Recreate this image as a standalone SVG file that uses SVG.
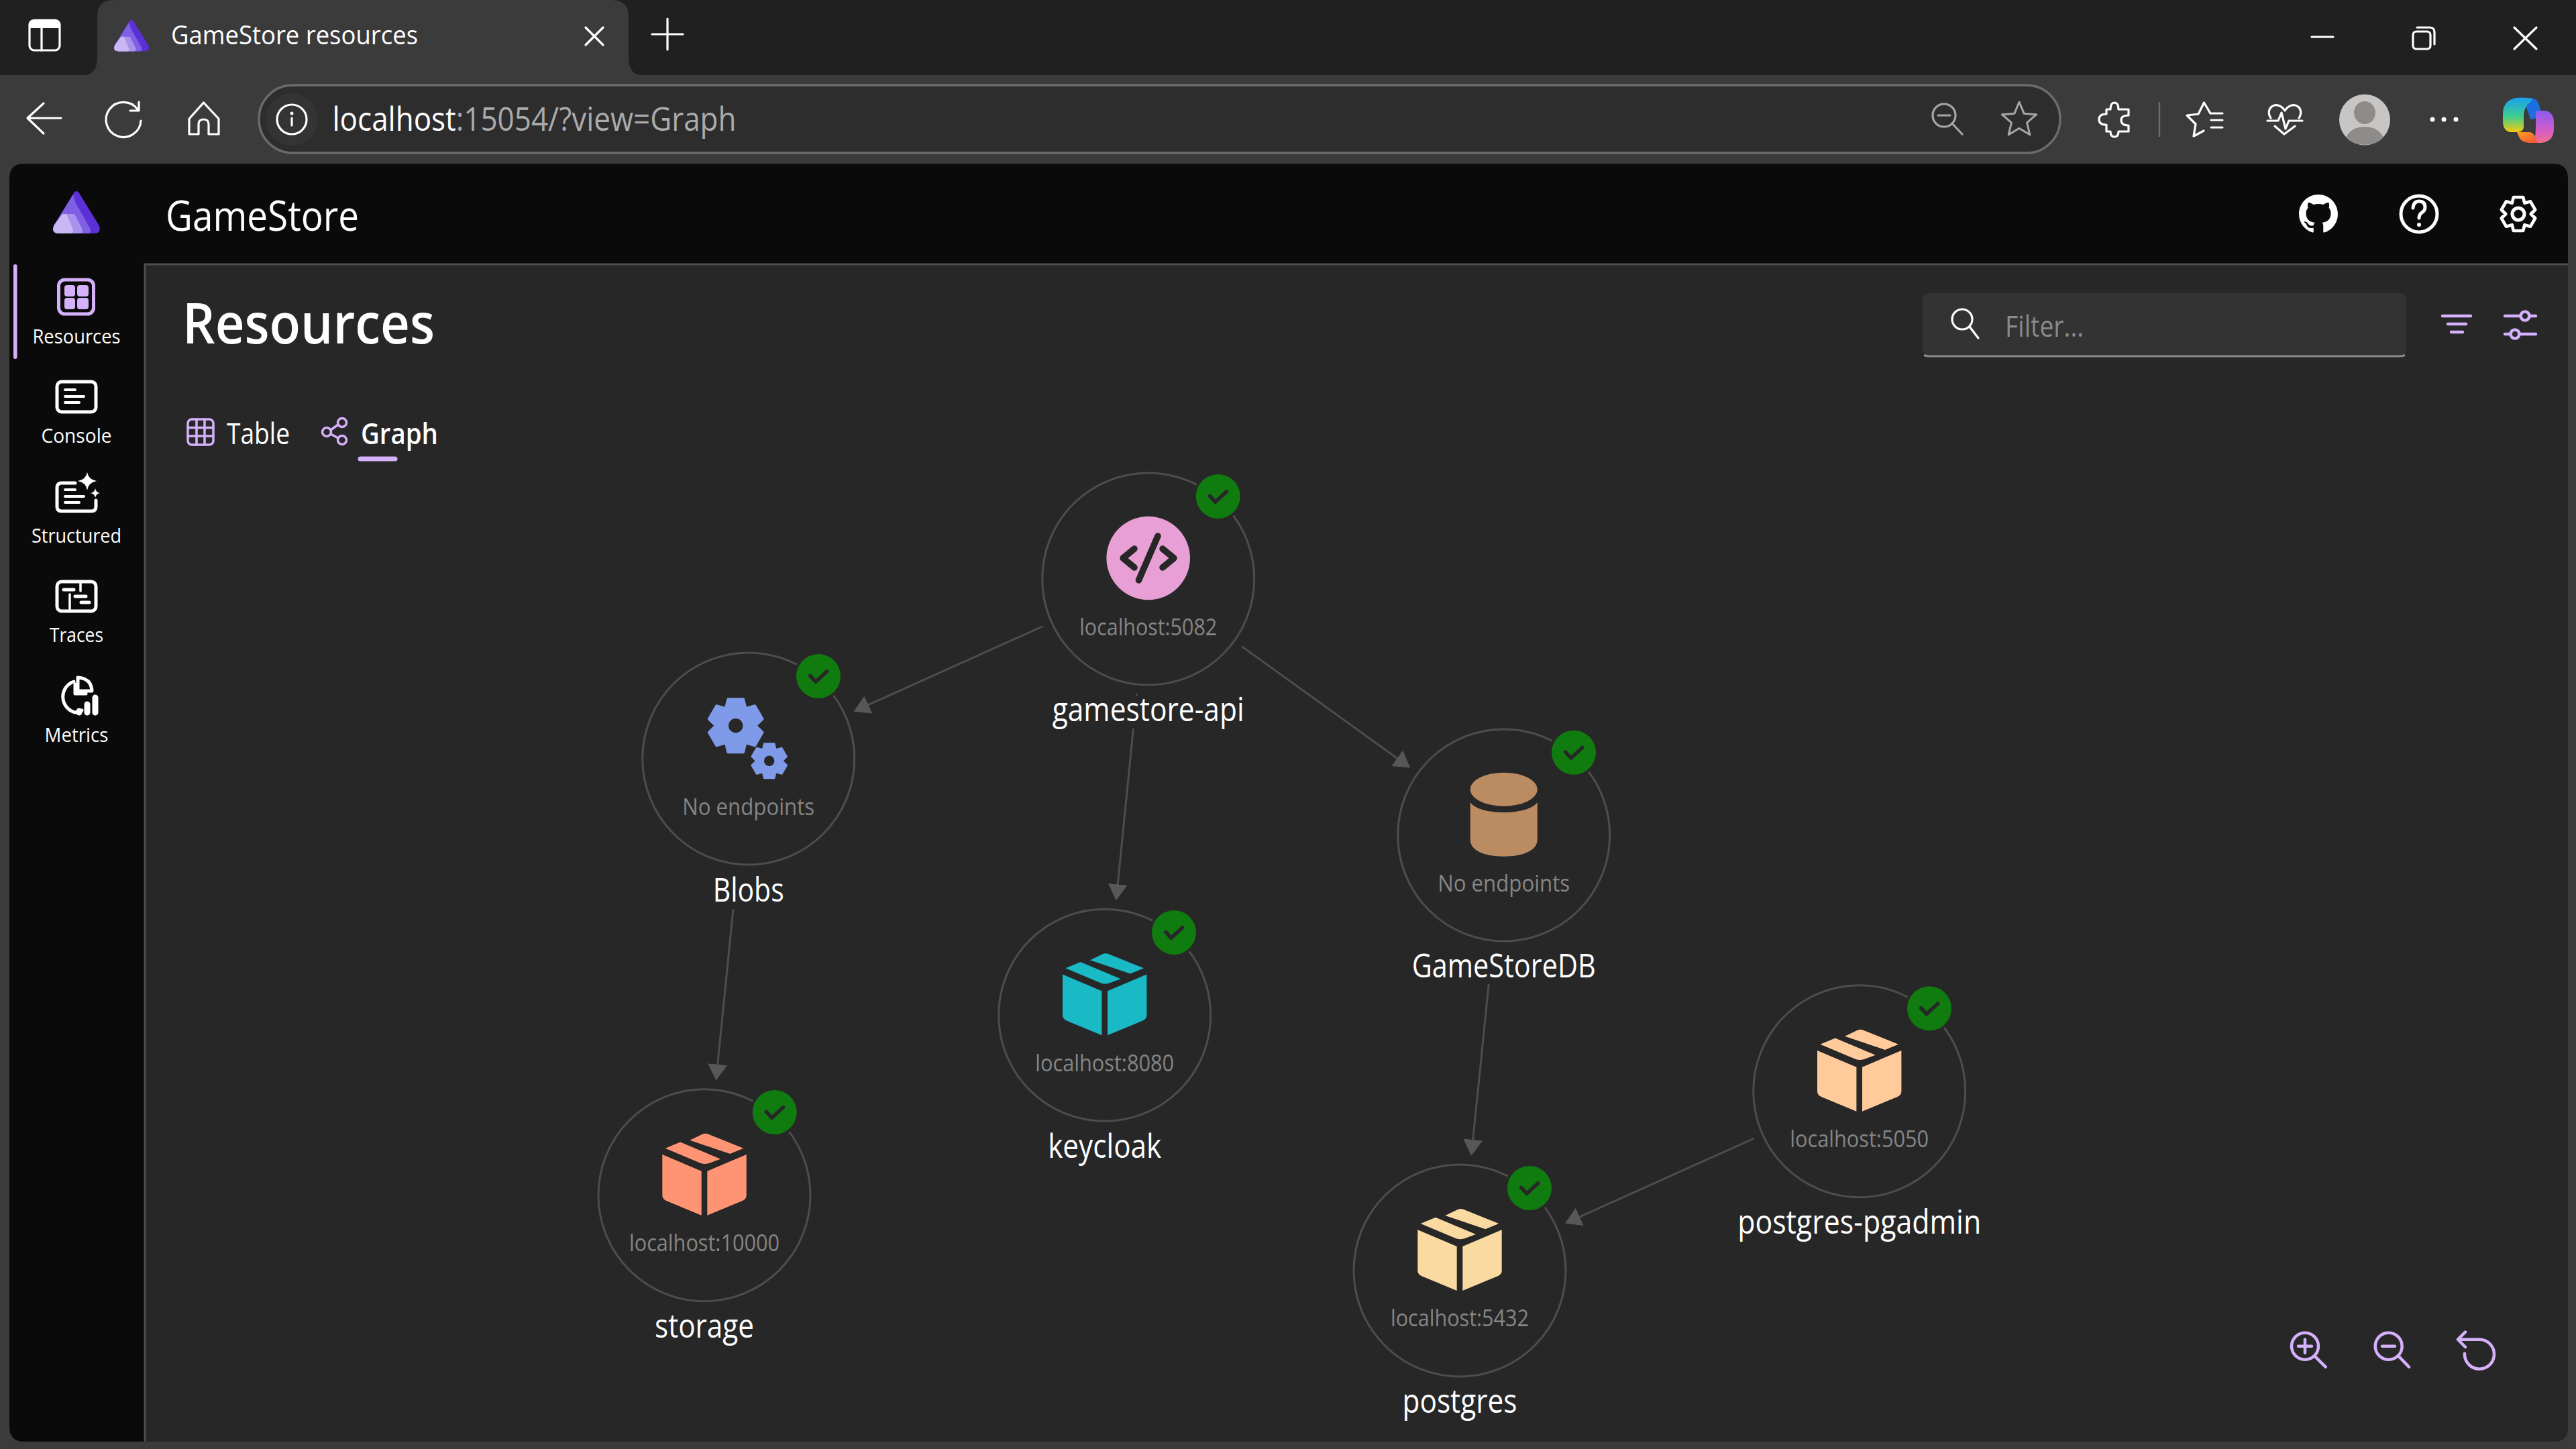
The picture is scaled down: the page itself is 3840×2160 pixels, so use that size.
<svg xmlns="http://www.w3.org/2000/svg" width="3840" height="2160" viewBox="0 0 3840 2160">
<style>
text{font-family:"Open Sans","Noto Sans","Liberation Sans",sans-serif;fill:#fff}
.ep{font-size:34px;fill:#858585;text-anchor:middle}
.nm{font-size:49px;text-anchor:middle}
.nav{font-size:30px;text-anchor:middle}
.ring{fill:none;stroke:#4d4d4d;stroke-width:3}
.badge{fill:#107c10;stroke:#272727;stroke-width:7;paint-order:stroke}
.chk{fill:none;stroke:#272727;stroke-width:5.5;stroke-linecap:round;stroke-linejoin:round}
.lb{fill:#272727}
.edge{fill:none;stroke:#4d4d4d;stroke-width:3;marker-end:url(#arrow)}
.w{fill:none;stroke:#fff;stroke-width:3.2;stroke-linecap:round;stroke-linejoin:round}
.wn{fill:none;stroke:#fff;stroke-width:5;stroke-linecap:round;stroke-linejoin:round}
.p{fill:none;stroke:#d6b1fb;stroke-width:4.5;stroke-linecap:round;stroke-linejoin:round}
.pf{fill:#d6b1fb}
.g{fill:none;stroke:#a6a6a6;stroke-width:3.2;stroke-linecap:round;stroke-linejoin:round}
</style>
<defs>
<marker id="arrow" markerUnits="userSpaceOnUse" markerWidth="26" markerHeight="31" refX="16" refY="15.5" orient="auto"><path d="M0 1 L24 15.5 L0 30 Z" fill="#575757"/></marker>
<symbol id="box" overflow="visible" viewBox="-70 -100 140 140" width="140" height="140">
<path fill="currentColor" d="M-21.7 -82 L-3 -91 Q1.500 -93 6 -91 L58.300 -70 L38.300 -61.700 Z"/>
<path fill="currentColor" d="M-58.300 -70 L-36 -79.300 L24 -54 L7 -47.700 Q0 -45.500 -6 -48 Z"/>
<path fill="currentColor" d="M-62.700 -60.700 L-4.300 -36 V30 L-56.700 8.300 Q-62.700 5.500 -62.700 0 Z"/>
<path fill="currentColor" d="M62.700 -60.700 L4.300 -36 V30 L56.700 8.300 Q62.700 5.500 62.700 0 Z"/>
</symbol>
<path id="gearp" d="M-.276 -.961 L.276 -.961 L.36 -.624 L.695 -.719 L.97 -.242 L.72 0 L.97 .242 L.695 .719 L.36 .624 L.276 .961 L-.276 .961 L-.36 .624 L-.695 .719 L-.97 .242 L-.72 0 L-.97 -.242 L-.695 -.719 L-.36 -.624 Z"/>
<path id="starp" d="M0 -1 L.265 -.364 L.951 -.309 L.428 .139 L.588 .809 L0 .45 L-.588 .809 L-.428 .139 L-.951 -.309 L-.265 -.364 Z"/>
<symbol id="logo" viewBox="0 0 70 63" overflow="visible">
<path fill="#5b30d6" d="M35 0 Q38 0 41 6 L68 50 Q74 63 60 63 H10 Q-4 63 2 50 L29 6 Q32 0 35 0Z"/>
<path fill="#7f60e4" d="M30 5 L2 50 Q-4 63 10 63 H52 Q58 63 55 55 L34 18 Q32 12 30 5Z"/>
<path fill="#a892ec" d="M18 34 L2 50 Q-4 63 10 63 H40 Q46 63 43 55 L32 34 Z"/>
<path fill="#c9b8f3" d="M14 34 L2 50 Q-4 63 10 63 H26 Q32 63 29 55 L20 34 Z"/>
</symbol>
<linearGradient id="cpL" x1="0" y1="0" x2="0" y2="1"><stop offset="0" stop-color="#19a0ee"/><stop offset=".55" stop-color="#3fcf8e"/><stop offset="1" stop-color="#f6ca10"/></linearGradient>
<linearGradient id="cpR" x1="0" y1="0" x2="0" y2="1"><stop offset="0" stop-color="#8a5cf0"/><stop offset=".6" stop-color="#d25cc8"/><stop offset="1" stop-color="#f0708a"/></linearGradient>
<linearGradient id="cpO" x1="0" y1="0" x2="1" y2="1"><stop offset="0" stop-color="#f6a21e"/><stop offset="1" stop-color="#f4503c"/></linearGradient>
</defs>

<g id="browser-chrome">
<rect width="3840" height="2160" fill="#3b3b3b"/>
<rect width="3840" height="112" fill="#202020"/>
<path d="M125 112 Q145 112 145 85 V24 Q145 0 170 0 H912 Q937 0 937 24 V85 Q937 112 957 112 Z" fill="#3b3b3b"/>
<use href="#logo" x="170" y="29" width="52" height="48"/>
<text x="255" y="66" font-size="39" textLength="368" lengthAdjust="spacingAndGlyphs">GameStore resources</text>
<path class="w" d="M873 41 L899 67 M899 41 L873 67"/>
<path class="w" d="M995 28 V74 M972 51 H1018"/>
<rect x="44" y="30" width="45" height="45" rx="7" class="w"/>
<path d="M44 37 Q44 30 51 30 H82 Q89 30 89 37 V42 H44Z" fill="#fff"/>
<path class="w" d="M62 42 V75"/>
<path class="w" d="M91 176 H41 M65 154 L41 176 L65 199"/>
<path class="w" d="M210 180 A26 26 0 1 1 205 163 M207 152 V165 H194"/>
<path class="w" d="M282 177 L303.500 153 L326 177 V200 H311 V185 Q311 178 303.500 178 Q296 178 296 185 V200 H282 Z"/>
<rect x="386" y="127" width="2685" height="101" rx="50" fill="#2d2d2d" stroke="#6b6b6b" stroke-width="3.500"/>
<circle cx="435" cy="178" r="39" fill="#343434"/>
<circle cx="435" cy="178" r="22" class="w"/>
<circle cx="435" cy="169" r="2.500" fill="#fff"/>
<path class="w" d="M435 176 V187"/>
<text x="495.500" y="195" font-size="49" textLength="602" lengthAdjust="spacingAndGlyphs">localhost<tspan style="fill:#ababab">:15054/?view=Graph</tspan></text>
<circle cx="2898" cy="172" r="17" class="g"/><path class="g" d="M2910 184 L2925 200 M2889 172 H2907"/>
<use href="#starp" transform="translate(3010 179) scale(27)" fill="none" stroke="#a6a6a6" stroke-width=".11" stroke-linejoin="round"/>
<path class="w" d="M3140 163 H3146 Q3146 153 3152 153 Q3158 153 3158 163 H3173 V172 Q3162 172 3162 179 Q3162 187 3173 187 V196 H3158 Q3158 204 3152 204 Q3146 204 3146 196 H3140 V186 Q3129 186 3129 178 Q3129 170 3140 170 Z"/>
<path d="M3219 152 V204" stroke="#6b6b6b" stroke-width="2.500"/>
<path class="w" d="M3295 169 L3285.500 153 L3277 170 L3260 172 L3273 185 L3270 203 L3285 195 M3295 169 H3313 M3296 179 H3313 M3296 190 H3313"/>
<path class="w" d="M3385 176 C3375 160 3395 148 3406 165 C3417 148 3437 160 3427 176 M3391 188 L3405 200 L3421 188 M3380 180 H3396 L3401 168 L3407 192 L3412 180 H3432"/>
<circle cx="3525" cy="178.500" r="38" fill="#c8c6c4"/>
<ellipse cx="3525" cy="168" rx="16" ry="17" fill="#8e8c8a"/>
<path d="M3497 205 Q3505 189 3525 189 Q3545 189 3553 205 Q3542 216 3525 216 Q3508 216 3497 205Z" fill="#8e8c8a"/>
<circle cx="3626" cy="178" r="3.500" fill="#fff"/><circle cx="3643" cy="178" r="3.500" fill="#fff"/><circle cx="3661" cy="178" r="3.500" fill="#fff"/>
<path d="M3755 146 H3772 Q3783 146 3786 160 L3790 174 L3772 178 Q3766 155 3755 146Z" fill="#1d6fe0"/>
<path d="M3750 146 Q3757 145 3770 146 Q3778 147 3772 152 Q3763 158 3762 172 L3762 190 Q3761 197 3752 197 H3742 Q3731 195 3731 180 V170 Q3731 150 3750 146Z" fill="url(#cpL)"/>
<path d="M3780 165 H3795 Q3807 168 3807 182 V192 Q3807 211 3788 213 H3775 Q3780 208 3780 190 Z" fill="url(#cpR)"/>
<path d="M3752 197 H3770 Q3777 197 3779 205 L3783 213 H3770 Q3758 212 3755 204Z" fill="url(#cpO)"/>
<path class="w" d="M3446 55 H3478" stroke-width="4"/>
<path class="w" d="M3603 41 H3622 Q3629 41 3629 48 V66"/>
<rect x="3597" y="47" width="26" height="26" rx="5" class="w"/>
<path class="w" d="M3748 41 L3781 73 M3781 41 L3748 73"/>
</g>

<g id="app-shell">
<path d="M36 244 H3806 Q3828 244 3828 266 V2127 Q3828 2149 3806 2149 H36 Q14 2149 14 2127 V266 Q14 244 36 244Z" fill="#0a0a0a"/>
<path d="M216 394 H3828 V2127 Q3828 2149 3806 2149 H216 Z" fill="#272727"/>
<path d="M216 2149 V394 H3828" fill="none" stroke="#4d4d4d" stroke-width="3"/>
<use href="#logo" x="79" y="285" width="70" height="63"/>
<text x="247" y="344" font-size="62" textLength="288" lengthAdjust="spacingAndGlyphs">GameStore</text>
<path fill="#fff" transform="translate(3427 290) scale(3.625)" d="M8 0C3.58 0 0 3.58 0 8c0 3.54 2.29 6.53 5.47 7.59.4.07.55-.17.55-.38 0-.19-.01-.82-.01-1.49-2.01.37-2.53-.49-2.69-.94-.09-.23-.48-.94-.82-1.13-.28-.15-.68-.52-.01-.53.63-.01 1.08.58 1.23.82.72 1.21 1.87.87 2.33.66.07-.52.28-.87.51-1.07-1.78-.2-3.64-.89-3.64-3.95 0-.87.31-1.59.82-2.15-.08-.2-.36-1.02.08-2.12 0 0 .67-.21 2.2.82.64-.18 1.32-.27 2-.27.68 0 1.36.09 2 .27 1.53-1.04 2.2-.82 2.2-.82.44 1.1.16 1.92.08 2.12.51.56.82 1.27.82 2.15 0 3.07-1.87 3.75-3.65 3.95.29.25.54.73.54 1.48 0 1.07-.01 1.93-.01 2.2 0 .21.15.46.55.38A8.013 8.013 0 0016 8c0-4.42-3.58-8-8-8z"/>
<circle cx="3606" cy="319" r="27" class="wn"/>
<path class="wn" d="M3597 310 Q3598 300 3606 300 Q3615 300 3615 309 Q3615 314 3610 317 Q3606 320 3606 325"/>
<circle cx="3606" cy="335" r="3" fill="#fff"/>
<use href="#gearp" transform="translate(3754 319) scale(26)" fill="none" stroke="#fff" stroke-width=".18" stroke-linejoin="round"/>
<circle cx="3754" cy="319" r="9" class="wn"/>
<rect x="2866" y="437" width="721" height="94" rx="9" fill="#333"/>
<path d="M2868 529.500 Q2872 531 2876 531 H3577 Q3581 531 3585 529.500" fill="none" stroke="#8a8a8a" stroke-width="3"/>
<circle cx="2925" cy="476" r="15" class="w"/><path class="w" d="M2936 487 L2949 504"/>
<text x="2989" y="502" font-size="43" textLength="117" lengthAdjust="spacingAndGlyphs" style="fill:#8a8a8a">Filter...</text>
<path class="p" d="M3641 471 H3683 M3649 483 H3676 M3654 495 H3671"/>
<path class="p" d="M3734 471 H3758 M3770 471 H3780 M3734 498 H3743 M3755 498 H3780"/>
<circle cx="3764" cy="471" r="6.500" class="p"/><circle cx="3749" cy="498" r="6.500" class="p"/>
<rect x="20" y="394" width="5.500" height="141" rx="2.700" class="pf"/>
<rect x="87.500" y="417" width="52" height="51" rx="9" class="p" style="stroke-width:5"/>
<rect x="96" y="425" width="16" height="17" rx="4" class="pf"/><rect x="115" y="425" width="17" height="17" rx="4" class="pf"/>
<rect x="96" y="444" width="16" height="17" rx="4" class="pf"/><rect x="115" y="444" width="17" height="17" rx="4" class="pf"/>
<text class="nav" x="114" y="512" textLength="131" lengthAdjust="spacingAndGlyphs">Resources</text>
<rect x="85" y="569" width="58" height="45" rx="7" class="wn"/>
<path class="wn" d="M97 581 H112 M97 591 H125 M97 600 H118" style="stroke-width:4"/>
<text class="nav" x="114" y="660" textLength="105" lengthAdjust="spacingAndGlyphs">Console</text>
<path class="wn" d="M112 720 H92 Q85 720 85 727 V755 Q85 762 92 762 H136 Q143 762 143 755 V746"/>
<path class="wn" d="M97 730 H112 M97 740 H125 M97 749 H118" style="stroke-width:4"/>
<path fill="#fff" d="M130 704 Q132 715 144 717 Q132 719 130 731 Q128 719 116 717 Q128 715 130 704Z M142 728 Q143 734 149 735 Q143 736 142 742 Q141 736 135 735 Q141 734 142 728Z"/>
<text class="nav" x="114" y="809" textLength="134" lengthAdjust="spacingAndGlyphs">Structured</text>
<rect x="85" y="867" width="58" height="44" rx="7" class="wn"/>
<path class="wn" d="M95 879 H110 M112 889 H128 M121 898 H133" style="stroke-width:5"/>
<path class="wn" d="M104 886 V911 M120 867 V881" style="stroke-width:3.500"/>
<text class="nav" x="114" y="957" textLength="80" lengthAdjust="spacingAndGlyphs">Traces</text>
<path class="wn" d="M110 1016 A24 24 0 0 0 112 1062 Q118 1062 122 1059"/>
<path class="wn" d="M116 1010 Q136 1011 137 1030 H116 Z M112 1020 V1034 H128"/>
<path d="M118 1060 V1062 M130 1050 V1062 M142 1040 V1062" fill="none" stroke="#fff" stroke-width="9" stroke-linecap="round"/>
<text class="nav" x="114" y="1106" textLength="95" lengthAdjust="spacingAndGlyphs">Metrics</text>
<text x="272" y="512" font-size="84" font-weight="600" textLength="376" lengthAdjust="spacingAndGlyphs">Resources</text>
<rect x="280" y="625" width="38" height="38" rx="6" class="p" style="stroke-width:3.500"/>
<path class="p" d="M293 625 V663 M305 625 V663 M280 637.500 H318 M280 650 H318" style="stroke-width:3.500"/>
<text x="338" y="662" font-size="43" textLength="94" lengthAdjust="spacingAndGlyphs">Table</text>
<circle cx="487" cy="644" r="6.500" class="p" style="stroke-width:3.500"/><circle cx="510" cy="630" r="6.500" class="p" style="stroke-width:3.500"/><circle cx="510" cy="656" r="6.500" class="p" style="stroke-width:3.500"/>
<path class="p" d="M493 641 L504 633 M493 647 L504 653" style="stroke-width:3.500"/>
<text x="538" y="662" font-size="43" font-weight="600" textLength="115" lengthAdjust="spacingAndGlyphs">Graph</text>
<rect x="533.500" y="680.500" width="59" height="7" rx="3.500" class="pf"/>
<circle cx="3436" cy="2006.700" r="20" class="p"/><path class="p" d="M3450 2021 L3466.700 2037.700 M3426 2006.700 H3446 M3436 1996.700 V2016.700"/>
<circle cx="3560.700" cy="2006.700" r="20" class="p"/><path class="p" d="M3575 2021 L3591 2037.700 M3551 2006.700 H3570"/>
<path class="p" d="M3674 2017.700 A22 22 0 1 0 3696 1996.700 H3664 M3675 1985.700 L3664 1996.700 L3675 2008"/>
</g>

<g id="connectors">
<path class="edge" d="M1554.800 933.500 L1279.900 1057.200"/>
<path class="edge" d="M1694.600 1034.100 L1664.600 1334.200"/>
<path class="edge" d="M1851.200 963.600 L2095.700 1139.700"/>
<path class="edge" d="M1098.400 1302.100 L1068.100 1602.600"/>
<path class="edge" d="M2224.400 1416.100 L2194.100 1714.900"/>
<path class="edge" d="M2614.800 1697 L2340.200 1820.400"/>
</g>

<g id="node-gamestore-api">
<rect class="lb" x="1560" y="1037" width="304" height="49"/>
<circle class="ring" cx="1711.700" cy="863" r="158"/>
<circle cx="1711.700" cy="832" r="62.300" fill="#e79fd5"/>
<path d="M1691 818 L1674 832 L1691 846 M1733 818 L1750 832 L1733 846 M1726 799 L1697.400 865" fill="none" stroke="#272727" stroke-width="9.500" stroke-linecap="round" stroke-linejoin="round"/>
<text class="ep" x="1711.700" y="947" textLength="205" lengthAdjust="spacingAndGlyphs">localhost:5082</text>
<circle class="badge" cx="1815.700" cy="740" r="33"/><path class="chk" d="M1803.400 739.300 L1811.700 748.300 L1828.400 732.700"/>
<text class="nm" x="1711.700" y="1075" textLength="286" lengthAdjust="spacingAndGlyphs">gamestore-api</text>
</g>

<g id="node-blobs">
<rect class="lb" x="1040" y="1300" width="150" height="55"/>
<circle class="ring" cx="1115.700" cy="1131" r="158"/>
<use href="#gearp" transform="translate(1096.700 1081.700) scale(41)" fill="#7f9ae8" stroke="#7f9ae8" stroke-width=".1" stroke-linejoin="round"/>
<circle cx="1096.700" cy="1081.700" r="10.700" fill="#272727"/>
<use href="#gearp" transform="translate(1146.700 1134.300) scale(26.700)" fill="#7f9ae8" stroke="#7f9ae8" stroke-width=".1" stroke-linejoin="round"/>
<circle cx="1146.700" cy="1134.300" r="7.700" fill="#272727"/>
<text class="ep" x="1115.700" y="1215" textLength="197" lengthAdjust="spacingAndGlyphs">No endpoints</text>
<circle class="badge" cx="1220" cy="1008" r="33"/><path class="chk" d="M1207.700 1007.300 L1216 1016.300 L1232.700 1000.700"/>
<text class="nm" x="1115.700" y="1344" textLength="106" lengthAdjust="spacingAndGlyphs">Blobs</text>
</g>

<g id="node-gamestoredb">
<rect class="lb" x="2100" y="1414" width="284" height="53"/>
<circle class="ring" cx="2241.700" cy="1245" r="158"/>
<ellipse cx="2241.700" cy="1176.700" rx="50" ry="25" fill="#bb8c61"/>
<path d="M2191.700 1196 C2205 1216 2278 1216 2291.700 1196 V1251.700 C2291.700 1268 2270 1276.700 2241.700 1276.700 C2213 1276.700 2191.700 1268 2191.700 1251.700 Z" fill="#bb8c61"/>
<text class="ep" x="2241.700" y="1329" textLength="197" lengthAdjust="spacingAndGlyphs">No endpoints</text>
<circle class="badge" cx="2346" cy="1121.700" r="33"/><path class="chk" d="M2333.700 1121 L2342 1130 L2358.700 1114.400"/>
<text class="nm" x="2241.700" y="1457" textLength="274" lengthAdjust="spacingAndGlyphs">GameStoreDB</text>
</g>

<g id="node-keycloak">
<circle class="ring" cx="1646.700" cy="1513.300" r="158"/>
<use href="#box" x="1576.700" y="1413.300" width="140" height="140" color="#19b9c6"/>
<text class="ep" x="1646.700" y="1597" textLength="207" lengthAdjust="spacingAndGlyphs">localhost:8080</text>
<circle class="badge" cx="1750" cy="1390" r="33"/><path class="chk" d="M1737.700 1389.300 L1746 1398.300 L1762.700 1382.700"/>
<text class="nm" x="1646.700" y="1726" textLength="169" lengthAdjust="spacingAndGlyphs">keycloak</text>
</g>

<g id="node-storage">
<circle class="ring" cx="1050" cy="1781.700" r="158"/>
<use href="#box" x="980" y="1681.700" width="140" height="140" color="#ff9474"/>
<text class="ep" x="1050" y="1865" textLength="224" lengthAdjust="spacingAndGlyphs">localhost:10000</text>
<circle class="badge" cx="1154.700" cy="1658" r="33"/><path class="chk" d="M1142.400 1657.300 L1150.700 1666.300 L1167.400 1650.700"/>
<text class="nm" x="1050" y="1994" textLength="148" lengthAdjust="spacingAndGlyphs">storage</text>
</g>

<g id="node-postgres">
<circle class="ring" cx="2176" cy="1894" r="158"/>
<use href="#box" x="2106" y="1794" width="140" height="140" color="#fadaa1"/>
<text class="ep" x="2176" y="1977" textLength="206" lengthAdjust="spacingAndGlyphs">localhost:5432</text>
<circle class="badge" cx="2280" cy="1771" r="33"/><path class="chk" d="M2267.700 1770.300 L2276 1779.300 L2292.700 1763.700"/>
<text class="nm" x="2176" y="2106" textLength="171" lengthAdjust="spacingAndGlyphs">postgres</text>
</g>

<g id="node-postgres-pgadmin">
<circle class="ring" cx="2771.700" cy="1626.700" r="158"/>
<use href="#box" x="2701.700" y="1526.700" width="140" height="140" color="#ffcb9b"/>
<text class="ep" x="2771.700" y="1710" textLength="207" lengthAdjust="spacingAndGlyphs">localhost:5050</text>
<circle class="badge" cx="2876" cy="1503.300" r="33"/><path class="chk" d="M2863.700 1502.600 L2872 1511.600 L2888.700 1496"/>
<text class="nm" x="2771.700" y="1839" textLength="363" lengthAdjust="spacingAndGlyphs">postgres-pgadmin</text>
</g>
</svg>
